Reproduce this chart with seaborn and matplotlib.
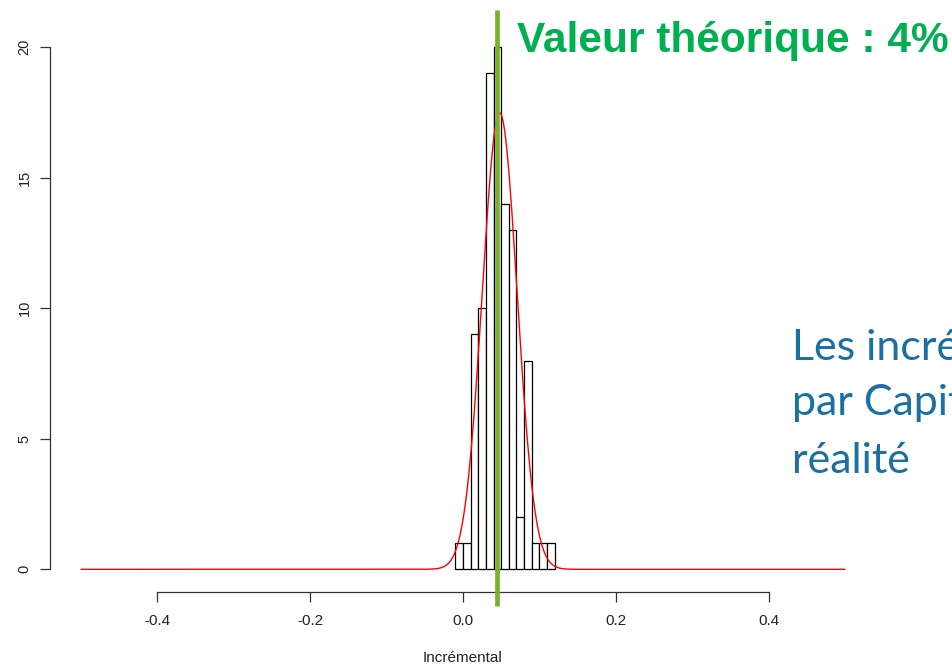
import numpy as np
import pandas as pd
import matplotlib
matplotlib.use("Agg")
import matplotlib.pyplot as plt
import seaborn as sns

# ---- data ----
bin_edges = [-0.01, 0.00, 0.01, 0.02, 0.03, 0.04, 0.05, 0.06, 0.07, 0.08, 0.09, 0.10, 0.11, 0.12]
counts = [1, 1, 9, 10, 19, 20, 14, 13, 2, 8, 1, 1, 1]
fit_mean = 0.048
fit_sd = 0.0228
curve_range = [-0.5, 0.5]
theoretical_value = 0.044
x_ticks = [-0.4, -0.2, 0.0, 0.2, 0.4]
x_tick_labels = ["-0.4", "-0.2", "0.0", "0.2", "0.4"]
y_ticks = [0, 5, 10, 15, 20]
y_tick_labels = ["0", "5", "10", "15", "20"]
x_label = "Incrémental"
green_title = "Valeur théorique : 4%"
blue_lines = ["Les incré", "par Capit", "réalité"]

sns.set_style("white")
plt.rcParams["font.family"] = ["Liberation Sans", "DejaVu Sans"]

W, H = 953, 666
fig = plt.figure(figsize=(W / 100, H / 100), dpi=100)
ax = fig.add_axes([50 / W, 74.5 / H, 871.4 / W, 583.35 / H])

mids = [(bin_edges[i] + bin_edges[i + 1]) / 2 for i in range(len(counts))]
hist_df = pd.DataFrame({"x": mids, "w": counts})
sns.histplot(data=hist_df, x="x", weights="w", bins=bin_edges, ax=ax,
             color="white", edgecolor="black", linewidth=0.9, alpha=1, zorder=2)

# fitted normal density scaled to counts
n_total = sum(counts)
bw = bin_edges[1] - bin_edges[0]
xs = np.linspace(curve_range[0], curve_range[1], 600)
ys = n_total * bw * np.exp(-0.5 * ((xs - fit_mean) / fit_sd) ** 2) / (fit_sd * np.sqrt(2 * np.pi))
curve_df = pd.DataFrame({"x": xs, "y": ys})
sns.lineplot(data=curve_df, x="x", y="y", ax=ax, color="#ff0000", linewidth=1.0, zorder=3)

ax.set_xlim(-0.5406, 0.6)
ax.set_ylim(-0.85, 21.5)

# theoretical value line
ax.plot([theoretical_value, theoretical_value], [-1.40, 21.43], color="#7CB02F",
        linewidth=3.4, solid_capstyle="butt", clip_on=False, zorder=4)

# R-style axes
for s in ["top", "right"]:
    ax.spines[s].set_visible(False)
ax.spines["left"].set_bounds(0, 20)
ax.spines["bottom"].set_bounds(-0.4, 0.4)
for s in ["left", "bottom"]:
    ax.spines[s].set_color("#333333")
    ax.spines[s].set_linewidth(0.9)

ax.set_xticks(x_ticks)
ax.set_xticklabels(x_tick_labels)
ax.set_yticks(y_ticks)
ax.set_yticklabels(y_tick_labels, rotation=90, va="center")
ax.tick_params(axis="both", which="major", direction="out", length=7.2, width=0.9,
               color="#333333", labelcolor="#222222", left=True, bottom=True)
ax.tick_params(axis="x", labelsize=11, pad=9)
ax.tick_params(axis="y", labelsize=10.5, pad=6)
ax.set_xlabel("")
ax.set_ylabel("")
ax.grid(False)

fig.text(463 / W, 1 - 658 / H, x_label, ha="center", va="center", fontsize=11, color="#222222")

fig.text(516.7 / W, 1 - 51.7 / H, green_title, ha="left", va="baseline",
         fontsize=30.5, fontweight="bold", color="#00B050")

blue_baselines = [360, 415, 473]
for line, yb in zip(blue_lines, blue_baselines):
    fig.text(791.7 / W, 1 - yb / H, line, ha="left", va="baseline",
             fontsize=31, color="#1A6FA3", family=["Lato", "DejaVu Sans"])

fig.savefig("out.png", dpi=100)
